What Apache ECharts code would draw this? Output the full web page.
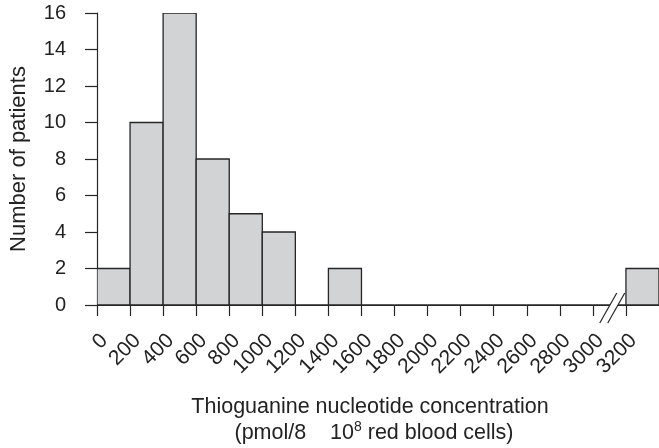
<!DOCTYPE html>
<html>
<head>
<meta charset="utf-8">
<script src="https://cdn.jsdelivr.net/npm/echarts@6/dist/echarts.min.js"></script>
<style>
  html, body { margin: 0; padding: 0; background: #fff; }
  #chart { width: 659px; height: 448px; }
</style>
</head>
<body>
<div id="chart"></div>
<script>
// Histogram bins (pmol/8 x 10^8 RBC): lower and upper edge of each bin
const binStart = [0, 200, 400, 600, 800, 1000, 1200, 1400, 1600, 1800, 2000, 2200, 2400, 2600, 2800, 3000, 3200];
const binEnd   = [200, 400, 600, 800, 1000, 1200, 1400, 1600, 1800, 2000, 2200, 2400, 2600, 2800, 3000, 3200, 3400];
// Number of patients in each bin
const patients = [2, 10, 16, 8, 5, 4, 0, 2, 0, 0, 0, 0, 0, 0, 0, 0, 2];
// Axis tick labels
const xTickLabels = ['0', '200', '400', '600', '800', '1000', '1200', '1400', '1600', '1800', '2000', '2200', '2400', '2600', '2800', '3000', '3200'];
const yTickLabels = ['0', '2', '4', '6', '8', '10', '12', '14', '16'];

const FONT = '"Liberation Sans", Arial, Helvetica, sans-serif';
const INK = '#262626';
const TEXT = '#222222';

const chart = echarts.init(document.getElementById('chart'), null, { renderer: 'canvas' });

const binData = binStart.map((s, i) => [s, binEnd[i], patients[i]]);

chart.setOption({
  animation: false,
  backgroundColor: '#ffffff',
  grid: { left: 95, top: 13, width: 568, bottom: 143, containLabel: false },
  xAxis: {
    type: 'value',
    min: 0,
    max: 3400,
    interval: 200,
    offset: 8,
    axisLine: { show: true, lineStyle: { color: INK, width: 1.2 } },
    axisTick: { show: true, length: 11, lineStyle: { color: INK, width: 1.2 } },
    splitLine: { show: false },
    axisLabel: {
      rotate: 45,
      margin: 17,
      verticalAlign: 'top',
      fontFamily: FONT,
      fontSize: 21,
      color: TEXT,
      showMaxLabel: false,
      formatter: (v) => {
        const i = Math.round(v / 200);
        return xTickLabels[i] !== undefined ? xTickLabels[i] : '';
      }
    }
  },
  yAxis: {
    type: 'value',
    min: 0,
    max: 16,
    interval: 2,
    offset: 10,
    name: 'Number of patients',
    nameLocation: 'middle',
    nameGap: 57,
    nameTextStyle: { fontFamily: FONT, fontSize: 22, color: TEXT },
    axisLine: { show: true, lineStyle: { color: INK, width: 1.2 } },
    axisTick: { show: true, length: 12, lineStyle: { color: INK, width: 1.2 } },
    splitLine: { show: false },
    axisLabel: {
      margin: 21,
      fontFamily: FONT,
      fontSize: 20,
      color: TEXT,
      formatter: (v) => yTickLabels[Math.round(v / 2)]
    }
  },
  series: [{
    type: 'custom',
    clip: true,
    data: binData,
    encode: { x: [0, 1], y: 2 },
    renderItem: (params, api) => {
      const p0 = api.coord([api.value(0), api.value(2)]);
      const p1 = api.coord([api.value(1), 0]);
      return {
        type: 'rect',
        shape: { x: p0[0], y: p0[1], width: p1[0] - p0[0], height: p1[1] - p0[1] },
        style: { fill: '#d2d3d5', stroke: INK, lineWidth: 1.3 }
      };
    }
  }]
});

// Axis break between 3000 and 3200, plus the two-line x-axis title
const basePt = chart.convertToPixel({ gridIndex: 0 }, [3090, 0]);
const bx = basePt[0], by = basePt[1];
const slashBottom = by + 18, slashTop = by - 12;
const dx = 17;
chart.setOption({
  graphic: [
    {
      type: 'polygon', z: 100,
      shape: { points: [[bx - 8, slashBottom], [bx, slashBottom], [bx + dx, slashTop], [bx + dx - 8, slashTop]] },
      style: { fill: '#ffffff', stroke: null }
    },
    {
      type: 'line', z: 101,
      shape: { x1: bx - 8, y1: slashBottom, x2: bx + dx - 8, y2: slashTop },
      style: { stroke: INK, lineWidth: 1.2 }
    },
    {
      type: 'line', z: 101,
      shape: { x1: bx, y1: slashBottom, x2: bx + dx, y2: slashTop },
      style: { stroke: INK, lineWidth: 1.2 }
    },
    {
      type: 'text', z: 100,
      x: 370, y: 396,
      style: {
        text: 'Thioguanine nucleotide concentration',
        textAlign: 'center', textVerticalAlign: 'top',
        fontFamily: FONT, fontSize: 21.5, fill: TEXT
      }
    },
    {
      type: 'text', z: 100,
      x: 374, y: 420,
      style: {
        text: '{t|(pmol/8    10}{s|8}{t| red blood cells)}',
        textAlign: 'center', textVerticalAlign: 'top',
        fontFamily: FONT, fontSize: 21.5, fill: TEXT,
        rich: {
          t: { fontFamily: FONT, fontSize: 21.5, fill: TEXT },
          s: { fontFamily: FONT, fontSize: 14, fill: TEXT, padding: [0, 0, 12, 0] }
        }
      }
    }
  ]
});
</script>
</body>
</html>
